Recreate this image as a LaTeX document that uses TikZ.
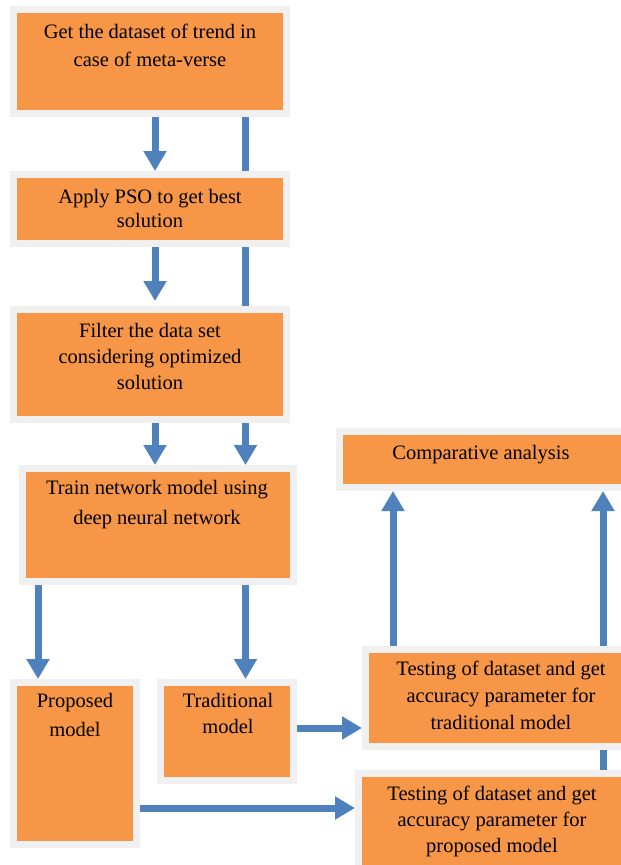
\documentclass[tikz,border=0pt]{standalone}
\usepackage{fontspec}
\setmainfont{Liberation Serif}
\usetikzlibrary{arrows.meta}
\definecolor{boxorange}{HTML}{F79646}
\definecolor{boxgray}{HTML}{F0F0F0}
\definecolor{arrowblue}{HTML}{4F81BD}
\tikzset{
  stepbox/.style={draw=boxgray, fill=boxorange, line width=7pt, inner sep=0pt, rectangle},
  boxtext/.style={anchor=north, inner sep=0pt, align=center, text=black},
  flow/.style={draw=arrowblue, line width=7pt, -{Triangle[width=22pt,length=20pt]}},
  flowline/.style={draw=arrowblue, line width=7pt}
}
\newcommand{\txt}[1]{\fontsize{20.5}{#1}\selectfont}
\begin{document}
\begin{tikzpicture}[x=1pt,y=-1pt]
\clip (0,0) rectangle (621,865);
\fill[white] (0,0) rectangle (621,865);
% boxes
\node[stepbox, minimum width=273pt, minimum height=104pt] (b1) at (150,61.5) {};
\node[stepbox, minimum width=273pt, minimum height=69pt] (b2) at (150,209) {};
\node[stepbox, minimum width=273pt, minimum height=110pt] (b3) at (150,364.5) {};
\node[stepbox, minimum width=271pt, minimum height=113pt] (b4) at (158,525) {};
\node[stepbox, minimum width=123pt, minimum height=162pt] (prop) at (75,763.5) {};
\node[stepbox, minimum width=133pt, minimum height=98pt] (trad) at (227,731.5) {};
\node[stepbox, minimum width=314pt, minimum height=56pt] (comp) at (496.5,459.5) {};
\node[stepbox, minimum width=288pt, minimum height=97pt] (testT) at (509.5,698) {};
\node[stepbox, minimum width=295pt, minimum height=130pt] (testP) at (506,838.5) {};
% texts
\node[boxtext, font=\txt{28}] (t1) at (150,23.5) {Get the dataset of trend in\\case of meta-verse};
\node[boxtext, font=\txt{24}] (t2) at (150,189.5) {Apply PSO to get best\\solution};
\node[boxtext, font=\txt{26}] (t3) at (150,323.5) {Filter the data set\\considering optimized\\solution};
\node[boxtext, font=\txt{30}] (t4) at (157,480.5) {Train network model using\\deep neural network};
\node[boxtext, font=\txt{29}] (t5) at (75,693.5) {Proposed\\model};
\node[boxtext, font=\txt{26}] (t6) at (228,693.5) {Traditional\\model};
\node[boxtext, font=\txt{27}] (t7) at (481,445.5) {Comparative analysis};
\node[boxtext, font=\txt{27}] (t8) at (501,660.5) {Testing of dataset and get\\accuracy parameter for\\traditional model};
\node[boxtext, font=\txt{26}] (t9) at (492,785.5) {Testing of dataset and get\\accuracy parameter for\\proposed model};
% column / row coordinates
\coordinate (xL) at (155,0);
\coordinate (xR) at (245.5,0);
\coordinate (xP) at (38,0);
\coordinate (xU1) at (393,0);
\coordinate (xU2) at (603,0);
\coordinate (yT) at (0,728);
\coordinate (yP) at (0,808);
% connectors
\draw[flow] (b1.south -| xL) -- (b2.north -| xL);
\draw[flowline] (b1.south -| xR) -- (b2.north -| xR);
\draw[flow, shorten >=5pt] (b2.south -| xL) -- (b3.north -| xL);
\draw[flowline] (b2.south -| xR) -- (b3.north -| xR);
\draw[flow] (b3.south -| xL) -- (b4.north -| xL);
\draw[flow] (b3.south -| xR) -- (b4.north -| xR);
\draw[flow] (b4.south -| xP) -- (prop.north -| xP);
\draw[flow] (b4.south -| xR) -- (trad.north -| xR);
\draw[flow] (yT -| trad.east) -- (yT -| testT.west);
\draw[flow] (yP -| prop.east) -- (yP -| testP.west);
\draw[flow] (testT.north -| xU1) -- (comp.south -| xU1);
\draw[flow] (testT.north -| xU2) -- (comp.south -| xU2);
\draw[flowline] (testT.south -| xU2) -- (testP.north -| xU2);
\end{tikzpicture}
\end{document}
